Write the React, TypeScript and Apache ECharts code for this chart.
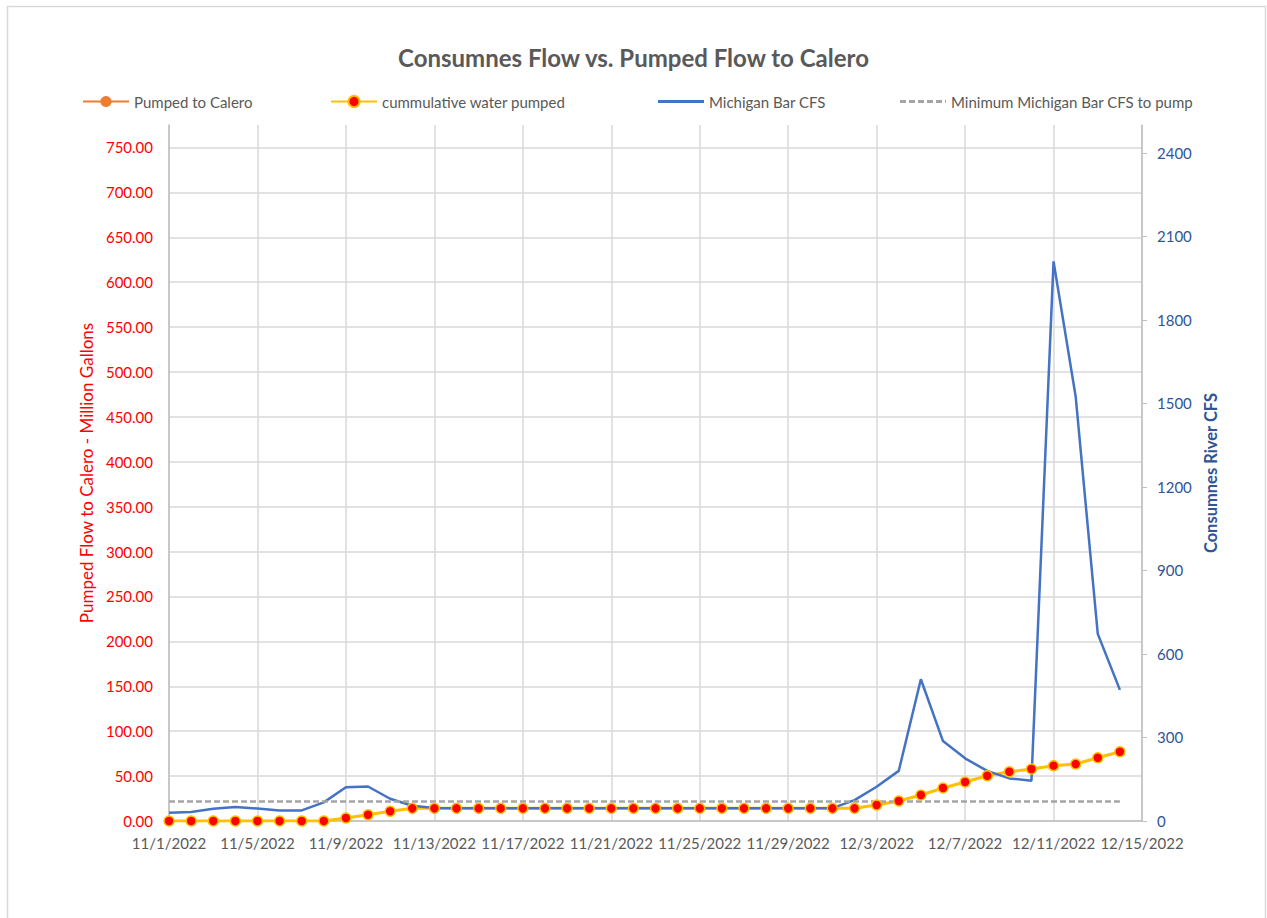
import React, { useEffect, useRef } from "react";
import * as echarts from "echarts";

const dates = [
  "11/1/2022", "11/2/2022", "11/3/2022", "11/4/2022", "11/5/2022", "11/6/2022", "11/7/2022", "11/8/2022",
  "11/9/2022", "11/10/2022", "11/11/2022", "11/12/2022", "11/13/2022", "11/14/2022", "11/15/2022", "11/16/2022",
  "11/17/2022", "11/18/2022", "11/19/2022", "11/20/2022", "11/21/2022", "11/22/2022", "11/23/2022", "11/24/2022",
  "11/25/2022", "11/26/2022", "11/27/2022", "11/28/2022", "11/29/2022", "11/30/2022", "12/1/2022", "12/2/2022",
  "12/3/2022", "12/4/2022", "12/5/2022", "12/6/2022", "12/7/2022", "12/8/2022", "12/9/2022", "12/10/2022",
  "12/11/2022", "12/12/2022", "12/13/2022", "12/14/2022", "12/15/2022",
];

const pumpedToCalero: (number | null)[] = [];

const cumulativePumped = [
  0, 0, 0, 0, 0, 0, 0, 0,
  3.3, 7.0, 10.8, 14.1,
  14.1, 14.1, 14.1, 14.1, 14.1, 14.1, 14.1, 14.1, 14.1, 14.1,
  14.1, 14.1, 14.1, 14.1, 14.1, 14.1, 14.1, 14.1, 14.1, 14.1,
  17.8, 22.3, 28.9, 36.7, 43.4, 50.4, 54.8, 57.9, 61.6, 63.4, 70.4, 77.1,
];

const michiganBarCFS = [
  30, 32, 44, 50, 45, 38, 38, 67, 121, 124, 80, 55, 47,
  46, 46, 46, 46, 46, 46, 46, 46, 46, 46, 46, 46, 46, 46, 46, 46, 46,
  46,
  75, 123, 180, 509, 287, 225, 180, 153, 145, 2010, 1525, 672, 471,
];

const minimumCFS = [
  70, 70, 70, 70, 70, 70, 70, 70, 70, 70, 70, 70, 70, 70, 70, 70, 70, 70, 70, 70, 70, 70,
  70, 70, 70, 70, 70, 70, 70, 70, 70, 70, 70, 70, 70, 70, 70, 70, 70, 70, 70, 70, 70, 70,
];

const FONT = "Lato";
const GREY_TEXT = "#595959";
const GRID_COLOR = "#D9D9D9";
const AXIS_COLOR = "#BFBFBF";
const RED = "#FF0000";
const BLUE_TEXT = "#2F5597";

const DASH_ICON =
  "path://M0,0h6v3h-6z M9,0h6v3h-6z M18,0h6v3h-6z M27,0h6v3h-6z M36,0h6v3h-6z M45,0h1v3h-1z";

export default function App() {
  const ref = useRef<HTMLDivElement>(null);

  useEffect(() => {
    if (!ref.current) return;
    const chart = echarts.init(ref.current, undefined, { renderer: "svg" });

    const legendText = { color: GREY_TEXT, fontSize: 15, fontFamily: FONT };

    chart.setOption({
      animation: false,
      backgroundColor: "#FFFFFF",
      textStyle: { fontFamily: FONT },
      title: {
        text: "Consumnes Flow vs. Pumped Flow to Calero",
        left: "center",
        top: 40,
        textStyle: { color: GREY_TEXT, fontSize: 24, fontWeight: "bold", fontFamily: FONT },
      },
      legend: [
        { top: 89, left: 77, itemWidth: 46, itemHeight: 14, textStyle: legendText, data: ["Pumped to Calero"] },
        { top: 89, left: 325, itemWidth: 46, itemHeight: 14, textStyle: legendText, data: ["cummulative water pumped"] },
        {
          top: 89,
          left: 653,
          itemWidth: 46,
          itemHeight: 3,
          icon: "rect",
          textStyle: legendText,
          data: ["Michigan Bar CFS"],
        },
        {
          top: 89,
          left: 895,
          itemWidth: 46,
          itemHeight: 3,
          icon: DASH_ICON,
          textStyle: legendText,
          data: ["Minimum Michigan Bar CFS to pump"],
        },
      ],
      graphic: [
        {
          type: "rect",
          shape: { x: 7.5, y: 6.5, width: 1258, height: 930 },
          style: { fill: "none", stroke: GRID_COLOR, lineWidth: 1.5 },
          silent: true,
        },
      ],
      grid: { left: 169, right: 125, top: 125, bottom: 97, containLabel: false },
      xAxis: {
        type: "category",
        data: dates,
        boundaryGap: false,
        axisLine: { show: true, lineStyle: { color: AXIS_COLOR, width: 1.5 } },
        axisTick: { show: false },
        axisLabel: { interval: 3, color: GREY_TEXT, fontSize: 15, fontFamily: FONT, margin: 14 },
        splitLine: { show: true, interval: 3, lineStyle: { color: GRID_COLOR, width: 1.5 } },
      },
      yAxis: [
        {
          type: "value",
          position: "left",
          min: 0,
          max: 775,
          interval: 50,
          name: "Pumped Flow to Calero - Million Gallons",
          nameLocation: "middle",
          nameRotate: 90,
          nameGap: 64,
          nameTextStyle: { color: RED, fontSize: 17, fontFamily: FONT },
          axisLine: { show: true, lineStyle: { color: AXIS_COLOR, width: 1.5 } },
          axisTick: { show: false },
          axisLabel: {
            color: RED,
            fontSize: 15,
            fontFamily: FONT,
            margin: 16,
            showMaxLabel: false,
            formatter: (v: number) => v.toFixed(2),
          },
          splitLine: { show: true, showMaxLine: false, lineStyle: { color: GRID_COLOR, width: 1.5 } },
        },
        {
          type: "value",
          position: "right",
          min: 0,
          max: 2500,
          interval: 300,
          name: "Consumnes River CFS",
          nameLocation: "middle",
          nameRotate: 90,
          nameGap: 47,
          nameTextStyle: { color: BLUE_TEXT, fontSize: 16.5, fontWeight: "bold", fontFamily: FONT },
          axisLine: { show: true, lineStyle: { color: AXIS_COLOR, width: 1.5 } },
          axisTick: { show: true, length: 5, lineStyle: { color: AXIS_COLOR } },
          axisLabel: {
            color: BLUE_TEXT,
            fontSize: 15,
            fontFamily: FONT,
            margin: 15,
            showMaxLabel: false,
            formatter: (v: number) => String(v),
          },
          splitLine: { show: false },
        },
      ],
      series: [
        {
          name: "Pumped to Calero",
          type: "line",
          yAxisIndex: 0,
          data: pumpedToCalero,
          symbol: "circle",
          symbolSize: 9,
          itemStyle: { color: "#ED7D31" },
          lineStyle: { color: "#ED7D31", width: 3 },
        },
        {
          name: "cummulative water pumped",
          type: "line",
          yAxisIndex: 0,
          data: cumulativePumped,
          symbol: "circle",
          symbolSize: 10,
          itemStyle: { color: RED, borderColor: "#FFC000", borderWidth: 1.5 },
          lineStyle: { color: "#FFC000", width: 3 },
        },
        {
          name: "Michigan Bar CFS",
          type: "line",
          yAxisIndex: 1,
          data: michiganBarCFS,
          symbol: "none",
          itemStyle: { color: "#4472C4" },
          lineStyle: { color: "#4472C4", width: 2.5 },
        },
        {
          name: "Minimum Michigan Bar CFS to pump",
          type: "line",
          yAxisIndex: 1,
          data: minimumCFS,
          symbol: "none",
          itemStyle: { color: "#A5A5A5" },
          lineStyle: { color: "#A5A5A5", width: 2.5, type: [6, 3] },
        },
      ],
    });

    return () => chart.dispose();
  }, []);

  return (
    <div
      ref={ref}
      style={{ position: "fixed", left: 0, top: 0, width: 1267, height: 918 }}
    />
  );
}
